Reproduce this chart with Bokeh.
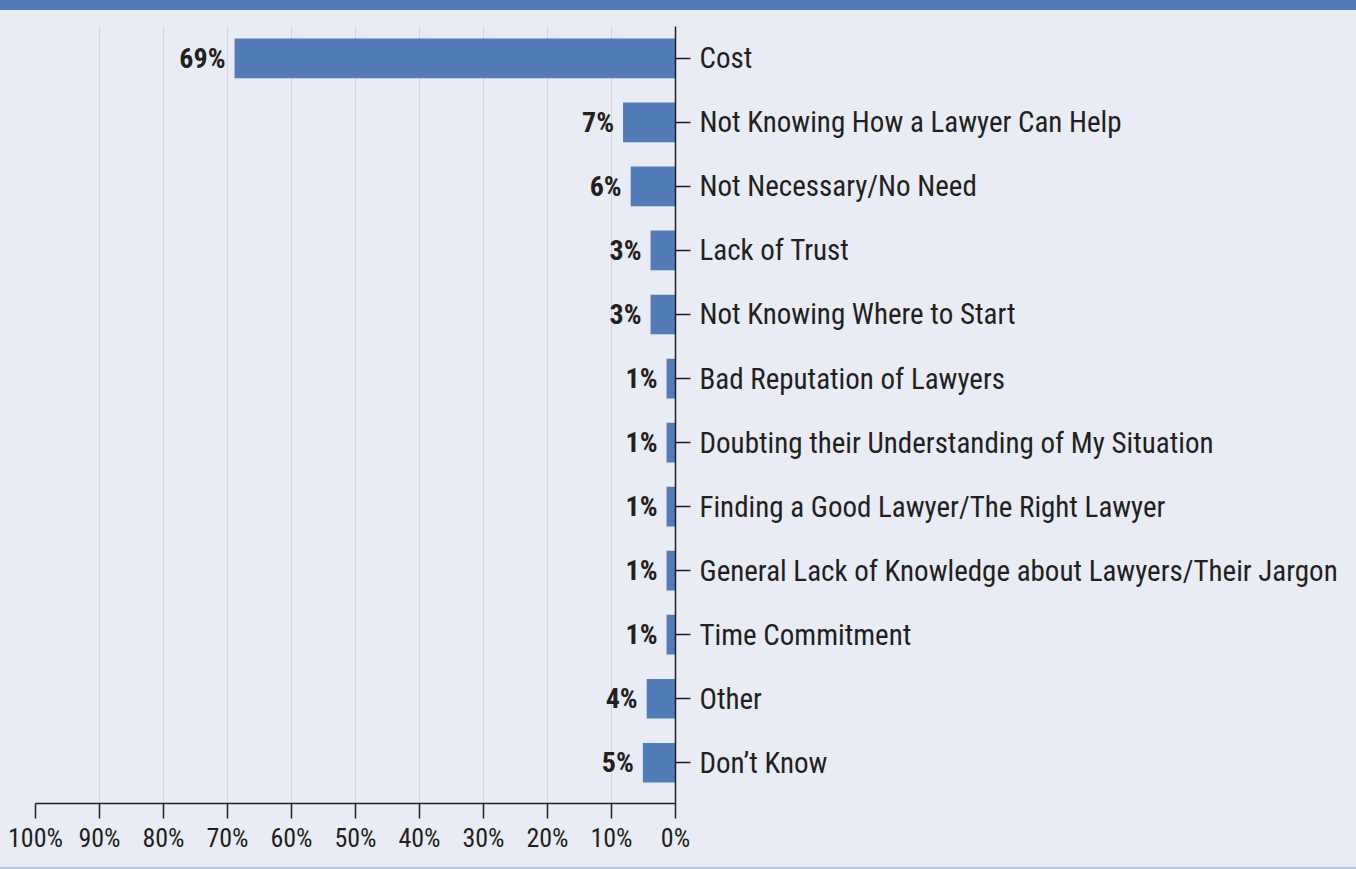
from bokeh.plotting import figure
from bokeh.models import Range1d, FixedTicker, Div, ColumnDataSource
from bokeh.layouts import column
from bokeh.embed import file_html
from bokeh.resources import INLINE
from bokeh.core.properties import value

# ---- data ----
categories = [
    "Cost",
    "Not Knowing How a Lawyer Can Help",
    "Not Necessary/No Need",
    "Lack of Trust",
    "Not Knowing Where to Start",
    "Bad Reputation of Lawyers",
    "Doubting their Understanding of My Situation",
    "Finding a Good Lawyer/The Right Lawyer",
    "General Lack of Knowledge about Lawyers/Their Jargon",
    "Time Commitment",
    "Other",
    "Don\u2019t Know",
]
bar_values = [68.9, 8.2, 7.0, 3.9, 3.9, 1.4, 1.4, 1.4, 1.4, 1.4, 4.5, 5.1]
value_labels = ["69%", "7%", "6%", "3%", "3%", "1%", "1%", "1%", "1%", "1%", "4%", "5%"]
x_ticks = [100, 90, 80, 70, 60, 50, 40, 30, 20, 10, 0]
x_tick_labels = ["100%", "90%", "80%", "70%", "60%", "50%", "40%", "30%", "20%", "10%", "0%"]

# ---- style ----
BG = "#e9ecf5"
BLUE = "#527cb8"
TXT = "#231f20"
FONT = "Roboto Condensed"

positions = list(range(len(categories)))
src = ColumnDataSource(dict(y=positions, v=bar_values, lab=value_labels))

p = figure(
    width=1356, height=857,
    x_range=Range1d(100, 0),
    y_range=Range1d(11.636, -0.497),
    y_axis_location="right",
    output_backend="svg", toolbar_location=None,
    min_border_left=35, min_border_right=681,
    min_border_top=16, min_border_bottom=64,
    background_fill_color=BG, border_fill_color=BG,
    outline_line_color=None,
)
p.margin = 0

p.hbar(y="y", left=0, right="v", height=0.62, source=src,
       fill_color=BLUE, line_color=None)
p.text(x="v", y="y", text="lab", source=src, x_offset=-9,
       text_align="right", text_baseline="middle",
       text_font=value(FONT), text_font_style="bold",
       text_font_size="28px", text_color=TXT)

# grid
p.ygrid.grid_line_color = None
p.xgrid.ticker = FixedTicker(ticks=x_ticks)
p.xgrid.grid_line_color = "#d6d6d9"
p.xgrid.grid_line_width = 1

# bottom axis
xa = p.xaxis[0]
xa.ticker = FixedTicker(ticks=x_ticks)
xa.major_label_overrides = {t: l for t, l in zip(x_ticks, x_tick_labels)}
xa.major_tick_out = 15
xa.major_tick_in = 0
xa.minor_tick_line_color = None
xa.axis_line_color = TXT
xa.axis_line_width = 1.5
xa.major_tick_line_color = TXT
xa.major_tick_line_width = 1.5
xa.major_label_text_font = FONT
xa.major_label_text_font_size = "26px"
xa.major_label_text_color = TXT
xa.major_label_standoff = 4

# right (category) axis
ya = p.yaxis[0]
ya.ticker = FixedTicker(ticks=positions)
ya.major_label_overrides = {i: c for i, c in zip(positions, categories)}
ya.major_tick_out = 15
ya.major_tick_in = 0
ya.minor_tick_line_color = None
ya.axis_line_color = TXT
ya.axis_line_width = 1.5
ya.major_tick_line_color = TXT
ya.major_tick_line_width = 1.5
ya.major_label_text_font = FONT
ya.major_label_text_font_size = "29px"
ya.major_label_text_color = TXT
ya.major_label_standoff = 9

top_band = Div(width=1356, height=10, margin=0,
               styles={"background-color": BLUE})
bottom_line = Div(width=1356, height=2, margin=0,
                  styles={"background-color": "#b4c7e3"})

layout = column(top_band, p, bottom_line, spacing=0,
                styles={"background-color": BG})

open("out.html", "w").write(file_html(layout, INLINE))
